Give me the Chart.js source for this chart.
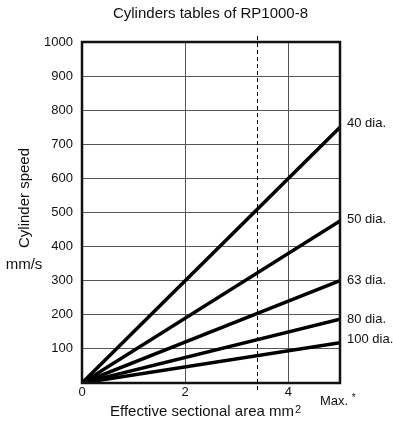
<!DOCTYPE html>
<html><head><meta charset="utf-8">
<script src="https://cdn.jsdelivr.net/npm/chart.js@4/dist/chart.umd.min.js"></script>
<style>html,body{margin:0;padding:0;background:#fff}#wrap{width:393px;height:424px}</style>
</head><body><div id="wrap"><canvas id="c" width="393" height="424"></canvas></div>
<script>
const cylinders = ["40 dia.", "50 dia.", "63 dia.", "80 dia.", "100 dia."];
const speedsAtMax = [750, 475, 300, 187, 118];
const areaMax = 5;
const xTicks = [0, 2, 4];
const yTicks = [100, 200, 300, 400, 500, 600, 700, 800, 900, 1000];
const dashedAt = 3.4;

const FONT = "'Liberation Sans', Arial, sans-serif";

const datasets = cylinders.map((n, i) => ({
  label: n,
  data: [{x: 0, y: 0}, {x: areaMax, y: speedsAtMax[i]}],
  borderColor: '#000', borderWidth: 3.5, pointRadius: 0, fill: false, tension: 0,
  borderCapStyle: 'butt'
}));

const deco = {
  id: 'deco',
  afterDraw(chart) {
    const {ctx, chartArea: a, scales: {x, y}} = chart;
    ctx.save();
    // dashed line
    ctx.strokeStyle = '#000'; ctx.lineWidth = 1; ctx.setLineDash([4, 3]);
    const dx = Math.round(x.getPixelForValue(dashedAt)) + 0.5;
    ctx.beginPath(); ctx.moveTo(dx, a.top - 6); ctx.lineTo(dx, a.bottom + 10); ctx.stroke();
    ctx.setLineDash([]);
    // frame
    ctx.lineWidth = 2.5; ctx.strokeStyle = '#111';
    ctx.strokeRect(a.left, a.top, a.right - a.left, a.bottom - a.top);
    // title
    ctx.fillStyle = '#111';
    ctx.font = '15px ' + FONT; ctx.textAlign = 'center'; ctx.textBaseline = 'middle';
    ctx.fillText('Cylinders tables of RP1000-8', 210.5, 14);
    // series labels
    ctx.font = '13px ' + FONT; ctx.textAlign = 'left';
    const yOff = [-4, -2, 0, 0, -3];
    cylinders.forEach((n, i) => {
      ctx.fillText(n, a.right + 7, y.getPixelForValue(speedsAtMax[i]) + yOff[i]);
    });
    // Max. *
    ctx.fillText('Max.', 320, 401);
    const mw = ctx.measureText('Max. ').width;
    ctx.font = '10px ' + FONT;
    ctx.fillText('*', 320 + mw, 398);
    // x title
    ctx.textAlign = 'left';
    ctx.font = '15px ' + FONT;
    const t = 'Effective sectional area mm';
    const w = ctx.measureText(t).width;
    const sx = 110;
    ctx.fillText(t, sx, 412);
    ctx.font = '11px ' + FONT;
    ctx.fillText('2', sx + w + 1, 410);
    // y title
    ctx.font = '15px ' + FONT; ctx.textAlign = 'center';
    ctx.save(); ctx.translate(25, 198); ctx.rotate(-Math.PI / 2);
    ctx.fillText('Cylinder speed', 0, 0); ctx.restore();
    ctx.fillText('mm/s', 24, 265);
    ctx.restore();
  }
};

new Chart(document.getElementById('c'), {
  type: 'line',
  data: {datasets},
  options: {
    responsive: false, animation: false, devicePixelRatio: 1,
    layout: {padding: {left: 0, right: 53, top: 42, bottom: 0}},
    plugins: {legend: {display: false}, tooltip: {enabled: false}, title: {display: false}},
    scales: {
      x: {
        type: 'linear', min: 0, max: areaMax,
        afterBuildTicks: s => { s.ticks = xTicks.map(v => ({value: v})); },
        afterFit: s => { s.height = 41; },
        grid: {color: '#555', lineWidth: 1, drawTicks: false},
        border: {display: false},
        ticks: {color: '#111', font: {family: FONT, size: 13}, padding: 2, maxRotation: 0,
                callback: v => String(v)}
      },
      y: {
        type: 'linear', min: 0, max: 1000,
        afterBuildTicks: s => { s.ticks = yTicks.map(v => ({value: v})); },
        afterFit: s => { s.width = 82; },
        grid: {color: '#555', lineWidth: 1, drawTicks: false},
        border: {display: false},
        ticks: {color: '#111', font: {family: FONT, size: 13}, padding: 9,
                callback: v => String(v)}
      }
    }
  },
  plugins: [deco]
});
</script></body></html>
